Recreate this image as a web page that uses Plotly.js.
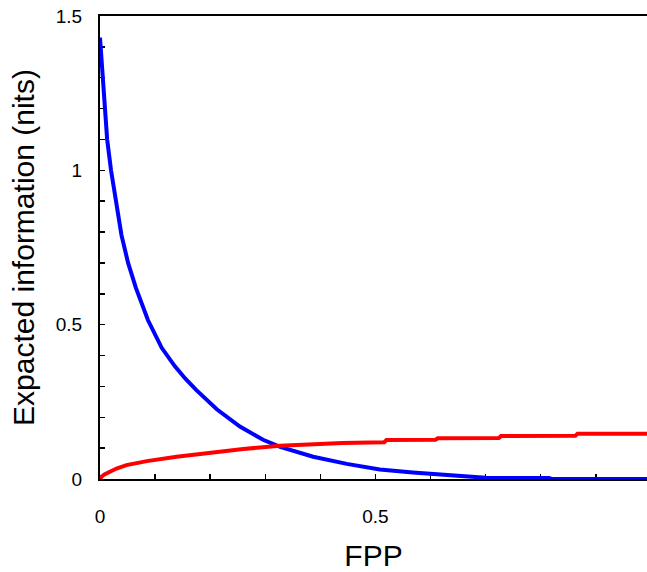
<!DOCTYPE html>
<html>
<head>
<meta charset="utf-8">
<script src="https://cdn.plot.ly/plotly-3.0.1.min.js"></script>
<style>html,body{margin:0;padding:0;background:#fff;}#chart{width:647px;height:572px;}</style>
</head>
<body>
<div id="chart"></div>
<script>
// Blue series: expected information vs FPP (decreasing)
const blueFPP = [0, 0.002, 0.004, 0.006, 0.009, 0.013, 0.02, 0.029, 0.039, 0.051, 0.065, 0.087, 0.1, 0.112, 0.136, 0.155, 0.175, 0.212, 0.254, 0.296, 0.327, 0.345, 0.387, 0.448, 0.508, 0.568, 0.629, 0.69, 0.70, 0.815, 0.82, 0.993];
const blueVal = [1.43, 1.38, 1.31, 1.25, 1.19, 1.10, 1.00, 0.894, 0.79, 0.70, 0.62, 0.515, 0.465, 0.425, 0.365, 0.325, 0.288, 0.226, 0.17, 0.127, 0.104, 0.094, 0.072, 0.049, 0.031, 0.021, 0.013, 0.006, 0.004, 0.003, 0.0, 0.0];
// Red series: expected information vs FPP (increasing)
const redFPP = [0, 0.003, 0.008, 0.018, 0.03, 0.048, 0.085, 0.139, 0.2, 0.26, 0.327, 0.375, 0.44, 0.516, 0.52, 0.609, 0.613, 0.724, 0.728, 0.863, 0.867, 0.993];
const redVal = [0, 0.008, 0.015, 0.024, 0.034, 0.045, 0.058, 0.072, 0.085, 0.097, 0.108, 0.113, 0.117, 0.119, 0.126, 0.127, 0.132, 0.133, 0.139, 0.140, 0.147, 0.147];
// Tick labels
const xTickVals = [0, 0.5];
const xTickText = ['0', '0.5'];
const yTickVals = [0, 0.5, 1, 1.5];
const yTickText = ['0', '0.5', '1', '1.5'];

const FONT = 'Liberation Sans, Arial, Helvetica, sans-serif';

const traces = [
  {x: blueFPP, y: blueVal, type: 'scatter', mode: 'lines', line: {color: '#0000ff', width: 4}, cliponaxis: false, showlegend: false},
  {x: redFPP, y: redVal, type: 'scatter', mode: 'lines', line: {color: '#ff0000', width: 4}, cliponaxis: false, showlegend: false}
];

const axisCommon = {
  ticks: 'inside', ticklen: 5, tickwidth: 1.5, tickcolor: '#000',
  showline: true, linewidth: 2, linecolor: '#000',
  showgrid: false, zeroline: false, layer: 'below traces',
  tickfont: {family: FONT, size: 19, color: '#000'},
  minor: {dtick: 0.1, tick0: 0, ticks: 'inside', ticklen: 5, tickwidth: 1.5, tickcolor: '#000', showgrid: false}
};

const layout = {
  width: 647, height: 572,
  margin: {l: 100, r: 0, t: 16, b: 93, pad: 0},
  paper_bgcolor: '#fff', plot_bgcolor: '#fff',
  font: {family: FONT, color: '#000'},
  xaxis: Object.assign({}, axisCommon, {
    range: [0, 0.993], tickmode: 'array', tickvals: xTickVals, ticktext: xTickText,
    mirror: true, ticklabelstandoff: 19,
    title: {text: 'FPP', font: {family: FONT, size: 30, color: '#000'}, standoff: 20}
  }),
  yaxis: Object.assign({}, axisCommon, {
    range: [0, 1.5], tickmode: 'array', tickvals: yTickVals, ticktext: yTickText,
    mirror: false, ticklabelstandoff: 12,
    title: {text: 'Expacted information (nits)', font: {family: FONT, size: 30, color: '#000'}, standoff: 12}
  })
};

Plotly.newPlot('chart', traces, layout, {displayModeBar: false, staticPlot: true});
</script>
</body>
</html>
